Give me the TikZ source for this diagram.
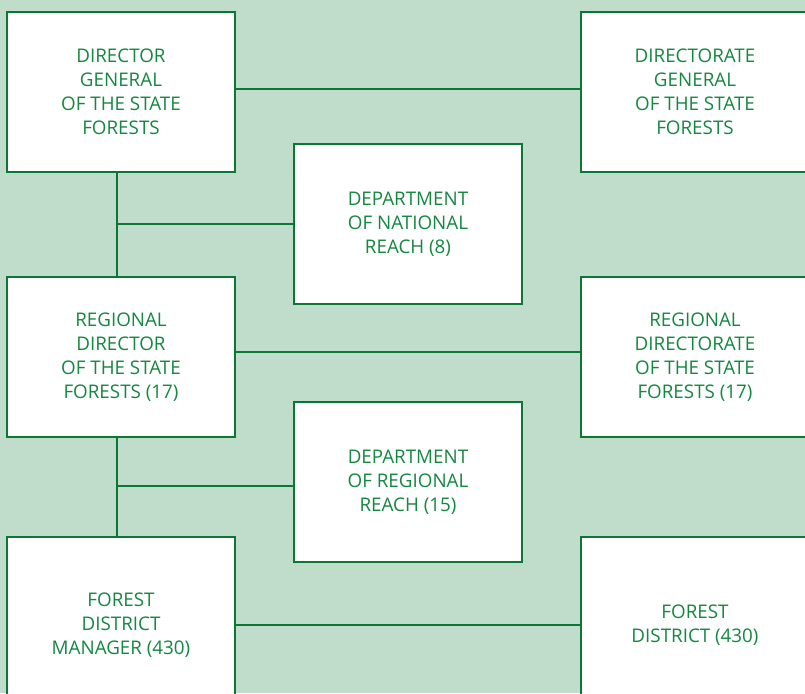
\documentclass[tikz,border=0pt]{standalone}
\usepackage{fontspec}
\setmainfont{Open Sans}
\usepackage{xcolor}
\usepackage{tikz}
\definecolor{forestbg}{RGB}{192, 220, 202}
\definecolor{forestgreen}{RGB}{20, 135, 65}
\definecolor{forestline}{RGB}{10, 120, 50}

\begin{document}
\begin{tikzpicture}[x=1pt,y=-1pt,
    unit/.style={draw=forestline,line width=1.4pt,fill=white,text=forestgreen,
        minimum width=228pt,minimum height=160pt,align=center,inner sep=0pt,
        font=\fontsize{18.8}{24}\selectfont},
    link/.style={forestline,line width=2.8pt}]
    % background and frame
    \fill[forestbg] (0,0) rectangle (805,693);
    \useasboundingbox (0,0) rectangle (805,693);
    \clip (0,0) rectangle (805,693);
    % left column: directors
    \node[unit] (dg) at (121,92) {DIRECTOR\\GENERAL\\OF THE STATE\\FORESTS};
    \node[unit] (rd) at (121,357) {REGIONAL\\DIRECTOR\\OF THE STATE\\FORESTS (17)};
    \node[unit,minimum height=176pt] (fdm) at (121,625) {FOREST\\DISTRICT\\MANAGER (430)};
    % middle column: departments
    \node[unit] (dnr) at (408,224) {DEPARTMENT\\OF NATIONAL\\REACH (8)};
    \node[unit] (drr) at (408,482) {DEPARTMENT\\OF REGIONAL\\REACH (15)};
    % right column: offices
    \node[unit] (dgsf) at (695,92) {DIRECTORATE\\GENERAL\\OF THE STATE\\FORESTS};
    \node[unit] (rdsf) at (695,357) {REGIONAL\\DIRECTORATE\\OF THE STATE\\FORESTS (17)};
    \node[unit,minimum height=176pt] (fd) at (695,625) {FOREST\\DISTRICT (430)};
    % trunk down the left column
    \coordinate (trunkA) at ([xshift=-4pt]dg.south);
    \coordinate (trunkB) at ([xshift=-4pt]rd.south);
    \draw[link] (trunkA) -- ([xshift=-4pt]rd.north);
    \draw[link] (trunkB) -- ([xshift=-4pt]fdm.north);
    \draw[link] (dnr.west) -- (dnr.west -| trunkA);
    \draw[link] ([yshift=-4pt]drr.west) -- ([yshift=-4pt]drr.west -| trunkB);
    % links across to the right column
    \draw[link] ([yshift=3pt]dg.east) -- ([yshift=3pt]dgsf.west);
    \draw[link] ([yshift=5pt]rd.east) -- ([yshift=5pt]rdsf.west);
    \draw[link] (fdm.east) -- (fd.west);
\end{tikzpicture}
\end{document}
